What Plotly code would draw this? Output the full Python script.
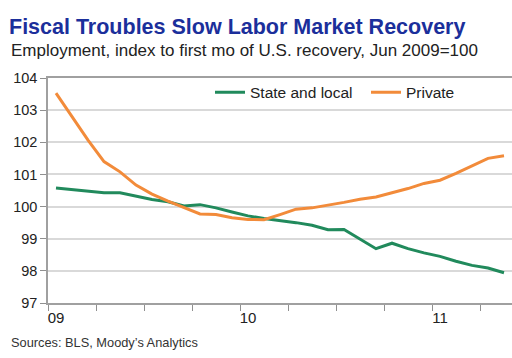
import plotly.graph_objects as go

# Monthly data, Jun 2009 .. Oct 2011 (index, Jun 2009 = 100)
months = ["2009-06","2009-07","2009-08","2009-09","2009-10","2009-11","2009-12",
          "2010-01","2010-02","2010-03","2010-04","2010-05","2010-06","2010-07",
          "2010-08","2010-09","2010-10","2010-11","2010-12","2011-01","2011-02",
          "2011-03","2011-04","2011-05","2011-06","2011-07","2011-08","2011-09",
          "2011-10"]
state_local = [100.58, 100.53, 100.46, 100.43, 100.43, 100.33, 100.22, 100.15, 100.02,
               100.06, 99.96, 99.83, 99.71, 99.63, 99.57, 99.50, 99.42, 99.28, 99.29,
               99.00, 98.69, 98.86, 98.69, 98.56, 98.45, 98.30, 98.17, 98.09, 97.94]
private = [103.53, 102.80, 102.07, 101.40, 101.08, 100.67, 100.39, 100.17, 99.96,
           99.77, 99.75, 99.65, 99.60, 99.59, 99.75, 99.92, 99.96, 100.04, 100.13,
           100.23, 100.30, 100.43, 100.56, 100.72, 100.82, 101.03, 101.27, 101.50, 101.58]
x_label_pos = [0, 12, 24]
x_labels = ["09", "10", "11"]
y_ticks = [97, 98, 99, 100, 101, 102, 103, 104]

idx = list(range(len(months)))
GREEN = "#218a5c"
ORANGE = "#f28b3a"
FONT = "Liberation Sans, Arial, sans-serif"

fig = go.Figure()
fig.add_trace(go.Scatter(x=idx, y=state_local, mode="lines", name="State and local",
                         line=dict(color=GREEN, width=3), customdata=months,
                         legend="legend"))
fig.add_trace(go.Scatter(x=idx, y=private, mode="lines", name="Private",
                         line=dict(color=ORANGE, width=3), customdata=months,
                         legend="legend2"))

leg_common = dict(orientation="h", yanchor="middle", xanchor="left",
                  bgcolor="rgba(0,0,0,0)", font=dict(size=15.5, color="#222222"))

fig.update_layout(
    width=512, height=358,
    margin=dict(l=48, r=0, t=78, b=55, autoexpand=False),
    paper_bgcolor="white", plot_bgcolor="white",
    font=dict(family=FONT, size=14, color="#222222"),
    showlegend=True,
    legend=dict(x=(210-48)/464, y=0.935, **leg_common),
    legend2=dict(x=(366-48)/464, y=0.935, **leg_common),
    title=dict(text="<b>Fiscal Troubles Slow Labor Market Recovery</b>",
               x=9/512, xanchor="left", xref="container",
               y=1-26/358, yanchor="middle", yref="container",
               font=dict(family=FONT, size=21.5, color="#1b2f9b")),
    annotations=[
        dict(text="Employment, index to first mo of U.S. recovery, Jun 2009=100",
             xref="paper", yref="paper", x=(9-48)/464, y=(303-51)/225,
             xanchor="left", yanchor="middle", showarrow=False,
             font=dict(size=17, color="#222222")),
        dict(text="Sources: BLS, Moody\u2019s Analytics",
             xref="paper", yref="paper", x=(9-48)/464, y=(303-342)/225,
             xanchor="left", yanchor="middle", showarrow=False,
             font=dict(size=12.8, color="#333333")),
    ],
)

fig.update_xaxes(
    range=[-0.5, len(months) - 0.5],
    tickmode="array", tickvals=x_label_pos, ticktext=x_labels, ticks="",
    showgrid=False, zeroline=False,
    showline=True, linecolor="#a0a0a0", linewidth=1.5, mirror=True,
    tickfont=dict(size=15, color="#222222"),
    minor=dict(tickmode="array", tickvals=[k - 0.5 for k in range(0, len(months) + 1, 3)],
               ticks="outside", ticklen=6, tickcolor="#909090", tickwidth=1, showgrid=False),
)
fig.update_yaxes(
    range=[97, 104], tickmode="array", tickvals=y_ticks,
    ticks="outside", ticklen=6, tickcolor="#909090",
    showgrid=True, gridcolor="#d9d9d9", gridwidth=1.5, zeroline=False,
    showline=True, linecolor="#a0a0a0", linewidth=1.5,
    tickfont=dict(size=14.5, color="#222222"),
)

fig.write_html("out.html")
